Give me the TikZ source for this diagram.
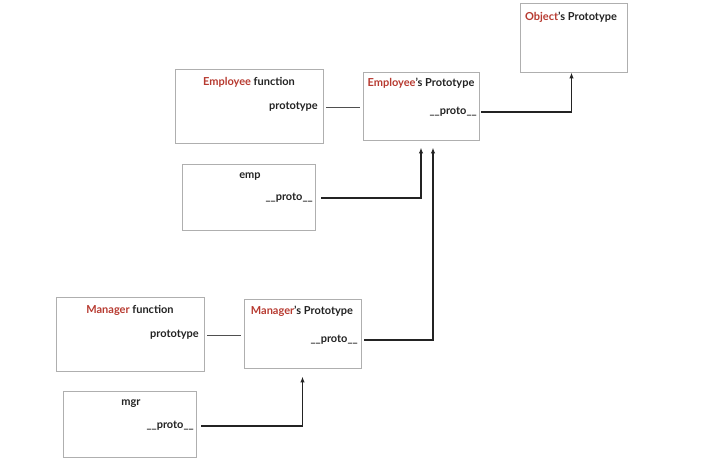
\documentclass[tikz,border=0pt]{standalone}
\usepackage{fontspec}
\setmainfont{Lato}
\usepackage{tikz}
\usetikzlibrary{arrows.meta}
\usepackage{xcolor}
\definecolor{boxgray}{RGB}{175,175,175}
\definecolor{jsred}{RGB}{183,58,48}
\definecolor{ink}{RGB}{35,35,35}

\begin{document}
\begin{tikzpicture}[x=1pt,y=-1pt,
  obj/.style={draw=boxgray,line width=0.9pt,inner sep=0pt},
  lbl/.style={font=\fontsize{11}{13}\selectfont\bfseries,text=ink,inner sep=0pt},
  link/.style={draw=ink,line width=1.4pt,-{Latex[length=6pt,width=4.5pt]}},
  tie/.style={draw=ink!80,line width=0.8pt}]
\useasboundingbox (0,0) rectangle (712,472);
\node [obj,minimum width=107pt,minimum height=69pt] (objproto) at (573.5,37.5) {};
\node [obj,minimum width=148pt,minimum height=74pt] (empfn) at (249,106) {};
\node [obj,minimum width=116pt,minimum height=68pt] (empproto) at (421,106) {};
\node [obj,minimum width=133pt,minimum height=66pt] (emp) at (248.5,197) {};
\node [obj,minimum width=148pt,minimum height=74pt] (mgrfn) at (130,334) {};
\node [obj,minimum width=117pt,minimum height=69pt] (mgrproto) at (302.5,333.5) {};
\node [obj,minimum width=133pt,minimum height=66pt] (mgr) at (129.5,424) {};
\node [lbl] (objprotoT) at (571,17) {\textcolor{jsred}{Object}'s Prototype};
\node [lbl] (empfnT) at (249,82) {\textcolor{jsred}{Employee} function};
\node [lbl,anchor=east] (empfnP) at (318,107) {prototype};
\node [lbl] (empprotoT) at (421,83) {\textcolor{jsred}{Employee}'s Prototype};
\node [lbl,anchor=east] (empprotoP) at (477,112) {\_\_proto\_\_};
\node [lbl] (empT) at (250,177) {emp};
\node [lbl,anchor=east] (empP) at (313,198) {\_\_proto\_\_};
\node [lbl] (mgrfnT) at (130,310) {\textcolor{jsred}{Manager} function};
\node [lbl,anchor=east] (mgrfnP) at (199,335) {prototype};
\node [lbl] (mgrprotoT) at (302,311) {\textcolor{jsred}{Manager}'s Prototype};
\node [lbl,anchor=east] (mgrprotoP) at (358,340) {\_\_proto\_\_};
\node [lbl] (mgrT) at (131,404) {mgr};
\node [lbl,anchor=east] (mgrP) at (194,426) {\_\_proto\_\_};
\draw [tie,shorten <=8pt,shorten >=3pt] (empfnP.east) -- (empproto.west|-empfnP.east);
\draw [tie,shorten <=8pt,shorten >=3pt] (mgrfnP.east) -- (mgrproto.west|-mgrfnP.east);
\draw [link,shorten <=4pt] (empprotoP.east) -| ([xshift=-2pt]objproto.south);
\draw [link,shorten <=8pt,shorten >=7pt] (empP.east) -| (empproto.south);
\draw [link,shorten <=6pt,shorten >=7pt] (mgrprotoP.east) -| ([xshift=12pt]empproto.south);
\draw [link,shorten <=7pt,shorten >=8pt] (mgrP.east) -| (mgrproto.south);
\end{tikzpicture}
\end{document}
